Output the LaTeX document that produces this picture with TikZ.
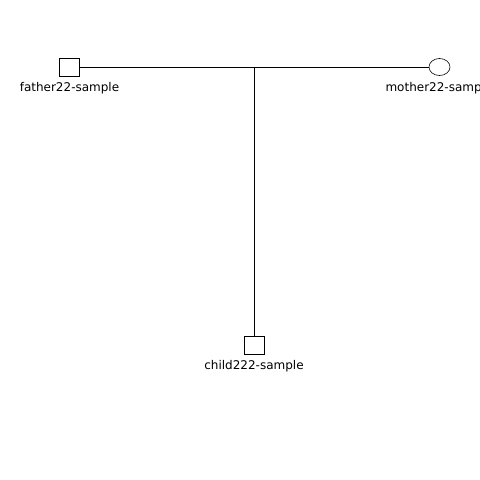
\documentclass[tikz,border=0pt]{standalone}
\usepackage{fontspec}
\setmainfont{DejaVu Sans}
\usetikzlibrary{shapes.geometric}
\begin{document}
\begin{tikzpicture}[x=1pt,y=-1pt,
  male/.style={draw=black,line width=0.6pt,minimum width=20pt,minimum height=18pt,inner sep=0pt,rectangle},
  female/.style={draw=black,line width=0.6pt,minimum width=21pt,minimum height=17pt,inner sep=0pt,ellipse},
  lbl/.style={anchor=base,inner sep=0pt,font=\fontsize{12}{14}\selectfont},
  link/.style={draw=black,line width=0.6pt}]
\useasboundingbox (0,0) rectangle (480,480);
\node[male] (father) at (69,67) {};
\node[female] (mother) at (439.5,67) {};
\node[male] (child) at (254,345) {};
\coordinate (mid) at (254,67);
\node[lbl] (flabel) at (69.5,91) {father22-sample};
\node[lbl] (mlabel) at (439,91) {mother22-sample};
\node[lbl] (clabel) at (254,369) {child222-sample};
\draw[link] (father.east) -- (mother.west);
\draw[link] (mid) -- (child.north);
\end{tikzpicture}
\end{document}
